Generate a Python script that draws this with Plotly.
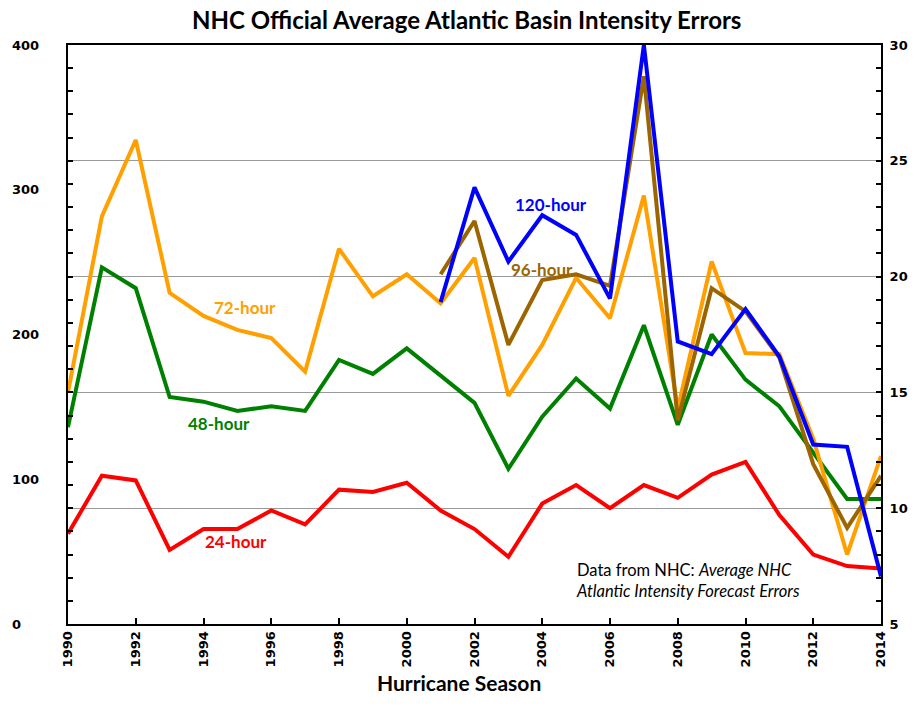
import plotly.graph_objects as go

years = list(range(1990, 2015))
years_ext = list(range(2001, 2015))

err_24 = [8.9, 11.4, 11.2, 8.2, 9.1, 9.1, 9.9, 9.3, 10.8, 10.7, 11.1, 9.9, 9.1, 7.9,
          10.2, 11.0, 10.0, 11.0, 10.45, 11.45, 12.0, 9.7, 8.0, 7.5, 7.4]
err_48 = [13.5, 20.4, 19.5, 14.8, 14.6, 14.2, 14.4, 14.2, 16.4, 15.8, 16.9, 15.7, 14.55, 11.7,
          13.95, 15.6, 14.3, 17.9, 13.6, 17.5, 15.55, 14.4, 12.4, 10.4, 10.4]
err_72 = [15.0, 22.6, 25.9, 19.3, 18.3, 17.7, 17.35, 15.9, 21.2, 19.15, 20.1, 18.85, 20.8, 14.85,
          17.05, 19.95, 18.2, 23.5, 14.3, 20.65, 16.7, 16.65, 13.0, 8.0, 12.25]
err_96 = [20.1, 22.4, 17.05, 19.85, 20.1, 19.6, 28.65, 13.8, 19.5, 18.5, 16.5, 11.9, 9.15, 11.4]
err_120 = [18.9, 23.85, 20.65, 22.65, 21.8, 19.05, 30.0, 17.2, 16.65, 18.6, 16.55, 12.75, 12.65, 7.05]

left_ticks = [0, 100, 200, 300, 400]
right_ticks = [5, 10, 15, 20, 25, 30]
x_ticks = list(range(1990, 2015, 2))

RED = "#FF0000"
GREEN = "#008000"
ORANGE = "#FFA000"
BROWN = "#9C6500"
BLUE = "#0000FF"
CAL = "Lato, Carlito, Calibri, sans-serif"
TICKFONT = dict(family="DejaVu Sans", size=13, color="black", weight="bold")

fig = go.Figure()
series = [
    (years, err_24, RED, "24-hour"),
    (years, err_48, GREEN, "48-hour"),
    (years, err_72, ORANGE, "72-hour"),
    (years_ext, err_96, BROWN, "96-hour"),
    (years_ext, err_120, BLUE, "120-hour"),
]
for xs, ys, col, name in series:
    fig.add_trace(go.Scatter(x=xs, y=ys, mode="lines", name=name, yaxis="y2",
                             line=dict(color=col, width=4), cliponaxis=False))

annotations = []
labels = [
    ("72-hour", 1995.22, 18.67, ORANGE),
    ("48-hour", 1994.45, 13.66, GREEN),
    ("24-hour", 1994.96, 8.56, RED),
    ("120-hour", 2004.25, 23.11, BLUE),
    ("96-hour", 2003.98, 20.31, BROWN),
]
for txt, xv, yv, col in labels:
    annotations.append(dict(x=xv, y=yv, xref="x", yref="y2", text=txt, showarrow=False,
                            font=dict(family=CAL, size=17, color=col, weight="bold")))
annotations.append(dict(x=2004.93, y=6.88, xref="x", yref="y2", xanchor="left", align="left",
                        text="Data from NHC: <i>Average NHC</i><br><i>Atlantic Intensity Forecast Errors</i>",
                        showarrow=False, font=dict(family=CAL, size=16.5, color="black")))
for v in left_ticks:
    annotations.append(dict(x=-0.0711, y=v, xref="paper", yref="y", xanchor="left",
                            text=str(v), showarrow=False, font=TICKFONT))
annotations.append(dict(x=0.481, y=-0.126, xref="paper", yref="paper", text="Hurricane Season",
                        showarrow=False, font=dict(family=CAL, size=21, color="black", weight="bold")))

# page body has an 8px margin: figure is 912x700 so the plot lands where the reference has it
fig.update_layout(
    width=912, height=700,
    margin=dict(l=60, r=36, t=37, b=84),
    paper_bgcolor="white", plot_bgcolor="white",
    showlegend=False,
    title=dict(text="NHC Official Average Atlantic Basin Intensity Errors", x=0.503, xanchor="center",
               y=0.9814, yanchor="middle",
               font=dict(family=CAL, size=24, color="black", weight="bold")),
    xaxis=dict(range=[1990, 2014], tickvals=x_ticks, ticktext=[str(t) for t in x_ticks],
               tickangle=-90, ticks="inside", ticklen=6, tickwidth=1.5, tickcolor="black",
               showline=True, mirror=True, linecolor="black", linewidth=2,
               showgrid=False, zeroline=False, tickfont=TICKFONT),
    yaxis=dict(range=[0, 400], showticklabels=False, showgrid=False, zeroline=False,
               showline=True, linecolor="black", linewidth=2,
               tickvals=list(range(0, 401, 16)), ticks="inside", ticklen=5, tickwidth=1.5,
               tickcolor="black"),
    yaxis2=dict(range=[5, 30], overlaying="y", side="right", tickvals=right_ticks,
                ticks="inside", ticklen=5, tickwidth=1.5, tickcolor="black",
                minor=dict(dtick=1, tick0=5, ticks="inside", ticklen=5, tickwidth=1.5,
                           tickcolor="black", showgrid=False),
                showgrid=True, gridcolor="#9a9a9a", gridwidth=1, zeroline=False,
                showline=True, linecolor="black", linewidth=2,
                tickfont=TICKFONT, ticklabelstandoff=4),
    annotations=annotations,
)

fig.write_html("out.html")
